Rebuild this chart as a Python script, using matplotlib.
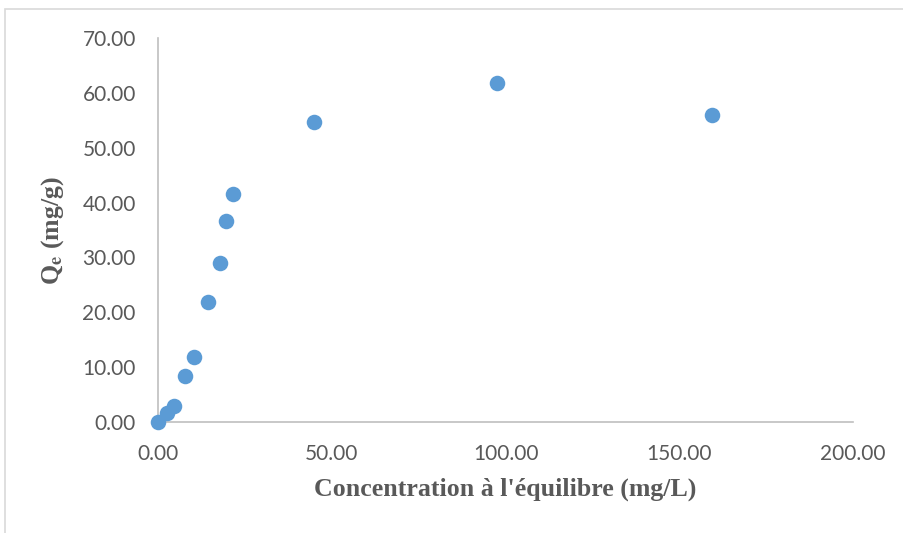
import matplotlib.pyplot as plt
from matplotlib.patches import Rectangle
from matplotlib.ticker import FormatStrFormatter

# data
conc = [0.0, 2.5, 4.7, 7.9, 10.3, 14.3, 17.7, 19.6, 21.5, 45.0, 97.6, 159.5]
qe = [0.0, 1.5, 2.8, 8.3, 11.8, 21.8, 29.0, 36.7, 41.6, 54.8, 61.8, 56.1]

x_ticks = [0, 50, 100, 150, 200]
y_ticks = [0, 10, 20, 30, 40, 50, 60, 70]

plt.rcParams['mathtext.fontset'] = 'stix'

fig = plt.figure(figsize=(9.04, 5.33), dpi=100)
ax = fig.add_axes([0.1748, 0.2088, 0.769, 0.719])

ax.scatter(conc, qe, s=125, color='#5B9BD5', zorder=3, clip_on=False, linewidths=0)

ax.set_xlim(0, 200)
ax.set_ylim(0, 70)
ax.set_xticks(x_ticks)
ax.set_yticks(y_ticks)
ax.xaxis.set_major_formatter(FormatStrFormatter('%.2f'))
ax.yaxis.set_major_formatter(FormatStrFormatter('%.2f'))

for s in ['top', 'right']:
    ax.spines[s].set_visible(False)
for s in ['left', 'bottom']:
    ax.spines[s].set_color('#bfbfbf')
    ax.spines[s].set_linewidth(1.2)

ax.tick_params(axis='both', length=0, labelsize=15, labelcolor='#595959')
ax.tick_params(axis='x', pad=16)
ax.tick_params(axis='y', pad=16)
for lab in ax.get_xticklabels() + ax.get_yticklabels():
    lab.set_family('Lato')

ax.set_xlabel("Concentration à l'équilibre (mg/L)", family='Liberation Serif',
              fontweight='bold', fontsize=18.6, color='#595959', labelpad=10)
ax.set_ylabel(r"Q$_\mathbf{e}$ (mg/g)", family='Liberation Serif',
              fontweight='bold', fontsize=18.6, color='#595959', labelpad=12)

# light frame around the chart area
fig.patches.append(Rectangle((5 / 904, -0.1), 1.2, 1 - 9 / 533 + 0.1,
                             transform=fig.transFigure, fill=False,
                             edgecolor='#d9d9d9', linewidth=1.2))

plt.savefig("out.png", dpi=100)
